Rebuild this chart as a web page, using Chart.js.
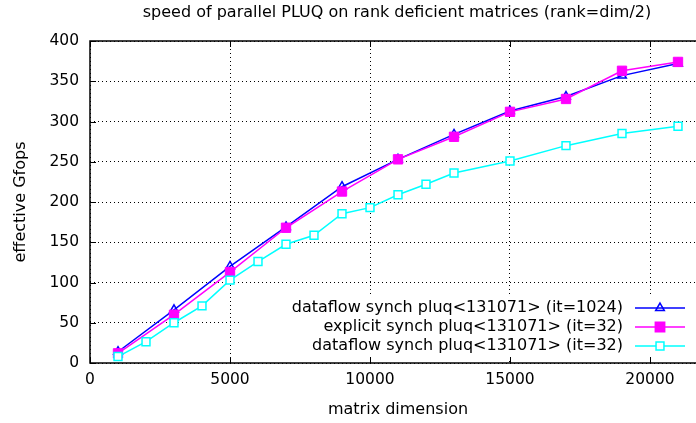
<!DOCTYPE html>
<html>
<head>
<meta charset="utf-8">
<script src="https://cdn.jsdelivr.net/npm/chart.js@4.4.1/dist/chart.umd.min.js"></script>
<style>
  html, body { margin: 0; padding: 0; background: #fff; overflow: hidden; }
  #wrap { width: 740px; height: 423px; }
</style>
</head>
<body>
<div id="wrap"><canvas id="c" width="740" height="423"></canvas></div>
<script>
// data
var dims_odd = [1000, 3000, 5000, 7000, 9000, 11000, 13000, 15000, 17000, 19000, 21000]
var flow1024 = [14, 66, 120, 169, 219, 253, 284, 313, 331, 357, 372]
var explicit32 = [12, 60, 113, 168, 213, 253, 281, 312, 328, 363, 374]
var dims_cyan = [1000, 2000, 3000, 4000, 5000, 6000, 7000, 8000, 9000, 10000, 11000, 12000, 13000, 15000, 17000, 19000, 21000]
var flow32 = [8, 26.5, 50, 71, 103, 126, 147.5, 158.6, 185.5, 193, 209, 222, 236, 251, 270, 285, 294]
var xTicks = [0, 5000, 10000, 15000, 20000]
var yTicks = [0, 50, 100, 150, 200, 250, 300, 350, 400]
var labels = [
    "dataflow synch pluq<131071> (it=1024)",
    "explicit synch pluq<131071> (it=32)",
    "dataflow synch pluq<131071> (it=32)"
]

function pts(xs, ys) {
    var out = []
    for (var i = 0; i < xs.length; i++) out.push({x: xs[i], y: ys[i]})
    return out
}

var FONT = "'DejaVu Sans', sans-serif"

var datasets = [
    {label: labels[0], data: pts(dims_odd, flow1024), borderColor: '#0000ff', backgroundColor: 'rgba(0,0,0,0)',
     pointStyle: 'triangle', pointRadius: 5, pointBorderWidth: 1.5, borderWidth: 1.5, order: 3},
    {label: labels[1], data: pts(dims_odd, explicit32), borderColor: '#ff00ff', backgroundColor: '#ff00ff',
     pointStyle: 'rect', pointRadius: 6.6, pointBorderWidth: 1, borderWidth: 1.5, order: 2},
    {label: labels[2], data: pts(dims_cyan, flow32), borderColor: '#00ffff', backgroundColor: '#ffffff',
     pointStyle: 'rect', pointRadius: 5.6, pointBorderWidth: 1.5, borderWidth: 1.5, order: 1}
]

// gnuplot-like frame, inward ticks, opaque key, title
var gnuplotBits = {
    id: 'gnuplotBits',
    beforeDatasetsDraw: function(chart) {
        var ctx = chart.ctx, a = chart.chartArea
        ctx.save()
        ctx.fillStyle = '#fff'
        ctx.fillRect(239, 297, a.right - 239, 62)
        ctx.restore()
    },
    afterDraw: function(chart) {
        var ctx = chart.ctx, a = chart.chartArea
        var xs = chart.scales.x, ys = chart.scales.y
        ctx.save()
        ctx.strokeStyle = '#000'
        ctx.lineWidth = 1.5
        ctx.setLineDash([])
        ctx.strokeRect(a.left, a.top, a.right - a.left, a.bottom - a.top)
        ctx.lineWidth = 1
        ctx.beginPath()
        xTicks.forEach(function(v) {
            var px = Math.round(xs.getPixelForValue(v)) + 0.5
            ctx.moveTo(px, a.bottom); ctx.lineTo(px, a.bottom - 6)
            ctx.moveTo(px, a.top); ctx.lineTo(px, a.top + 6)
        })
        yTicks.forEach(function(v) {
            var py = Math.round(ys.getPixelForValue(v)) + 0.5
            ctx.moveTo(a.left, py); ctx.lineTo(a.left + 6, py)
        })
        ctx.stroke()

        // title
        ctx.fillStyle = '#000'
        ctx.font = '16px ' + FONT
        ctx.textAlign = 'center'
        ctx.textBaseline = 'middle'
        ctx.fillText('speed of parallel PLUQ on rank deficient matrices (rank=dim/2)', 397, 13)

        // key
        ctx.font = '16px ' + FONT
        ctx.textAlign = 'right'
        var rowY = [308, 327, 346]
        chart.data.datasets.forEach(function(ds, i) {
            ctx.fillStyle = '#000'
            ctx.fillText(ds.label, 623, rowY[i])
            ctx.strokeStyle = ds.borderColor
            ctx.lineWidth = ds.borderWidth
            ctx.beginPath()
            ctx.moveTo(635, rowY[i]); ctx.lineTo(685, rowY[i])
            ctx.stroke()
            ctx.fillStyle = ds.backgroundColor
            Chart.helpers.drawPoint(ctx, {pointStyle: ds.pointStyle, radius: ds.pointRadius,
                borderWidth: ds.pointBorderWidth, rotation: 0}, 660, rowY[i])
        })
        ctx.restore()
    }
}

new Chart(document.getElementById('c').getContext('2d'), {
    type: 'line',
    data: {datasets: datasets},
    options: {
        responsive: false,
        animation: false,
        layout: {padding: {top: 41, right: 740 - 706, left: 0, bottom: 0}},
        plugins: {legend: {display: false}, tooltip: {enabled: false}, title: {display: false}},
        elements: {line: {tension: 0}},
        scales: {
            x: {
                type: 'linear', min: 0, max: 22000,
                afterBuildTicks: function(s) { s.ticks = xTicks.map(function(v) { return {value: v} }) },
                afterFit: function(s) { s.height = 423 - 363 },
                ticks: {color: '#000', font: {family: FONT, size: 15.5}, padding: 8, maxRotation: 0,
                        callback: function(v) { return String(v) }},
                grid: {color: '#000', lineWidth: 1, drawTicks: false},
                border: {display: false, dash: [1, 3]},
                title: {display: true, text: 'matrix dimension', color: '#000',
                        font: {family: FONT, size: 16}, padding: {top: 0, bottom: 4}}
            },
            y: {
                type: 'linear', min: 0, max: 400,
                afterBuildTicks: function(s) { s.ticks = yTicks.map(function(v) { return {value: v} }) },
                afterFit: function(s) { s.width = 90 },
                ticks: {color: '#000', font: {family: FONT, size: 15.5}, padding: 11},
                grid: {color: '#000', lineWidth: 1, drawTicks: false},
                border: {display: false, dash: [1, 3]},
                title: {display: true, text: 'effective Gfops', color: '#000',
                        font: {family: FONT, size: 16}, padding: {top: 11, bottom: 0}}
            }
        }
    },
    plugins: [gnuplotBits]
})
</script>
</body>
</html>
